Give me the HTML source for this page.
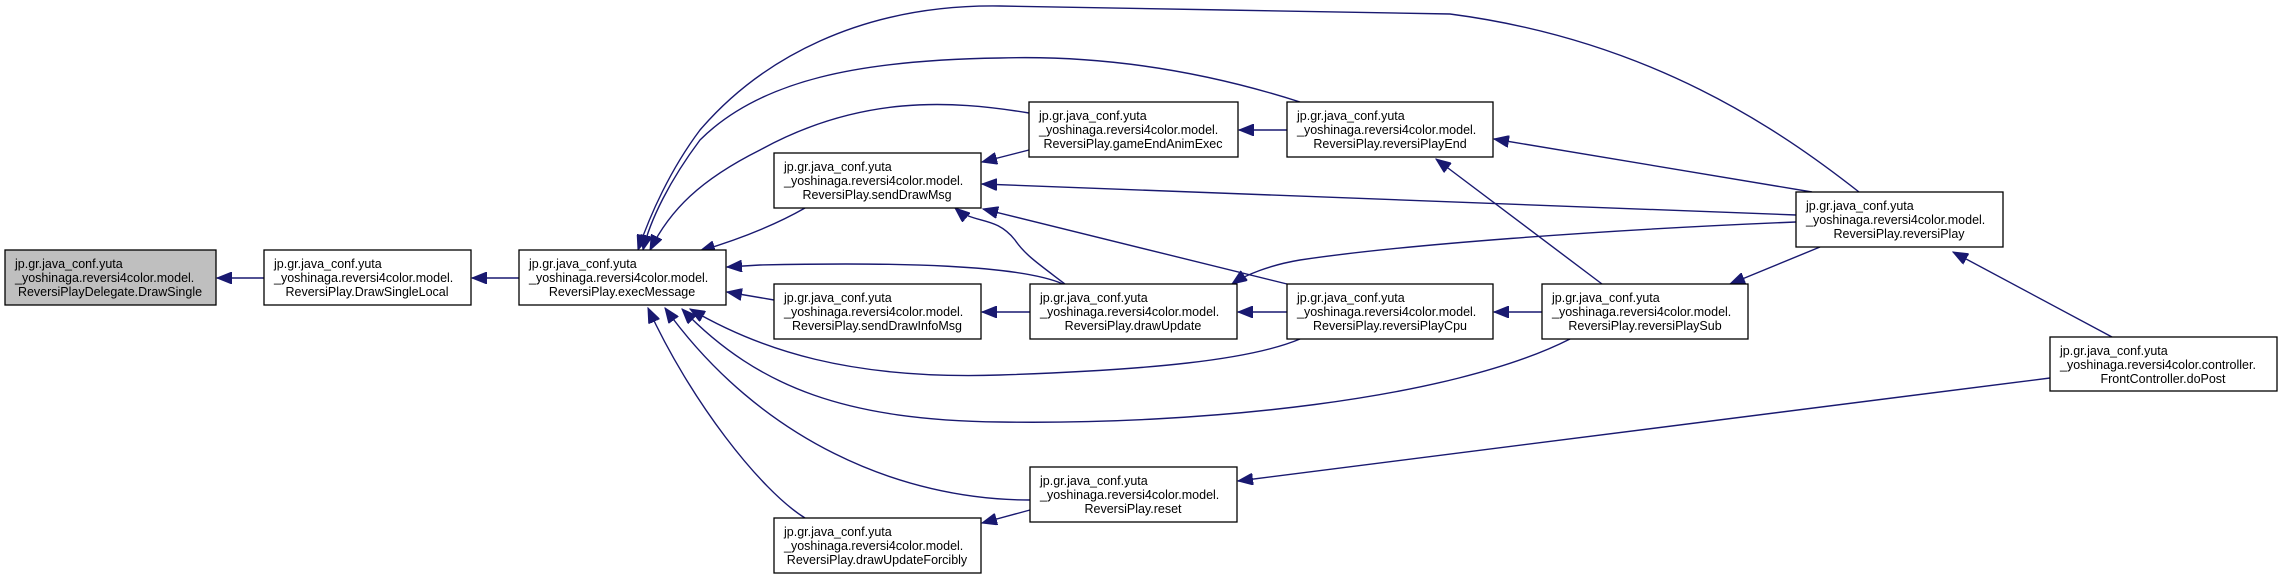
<!DOCTYPE html>
<html><head><meta charset="utf-8"><style>
html,body{margin:0;padding:0;background:#fff;}
svg{display:block;}
text{font-family:"Liberation Sans",sans-serif;font-size:12.5px;fill:#000;}
</style></head><body>
<svg width="2281" height="575" viewBox="0 0 2281 575" xmlns="http://www.w3.org/2000/svg">
<defs>
<marker id="a" markerUnits="userSpaceOnUse" markerWidth="16" markerHeight="12" refX="15" refY="6" orient="auto">
<path d="M0,0 L15,6 L0,12 Z" fill="#191970" stroke="#191970"/>
</marker>
</defs>
<g fill="none" stroke="#191970" stroke-width="1.4" marker-end="url(#a)">
<path d="M264,278 L217,278"/>
<path d="M519,278 L472,278"/>
<path d="M805,208 C770,228 730,242 700,251"/>
<path d="M774,300 L727,292"/>
<path d="M1063,284 C1020,265 900,262 760,265 L727,267"/>
<path d="M805,518 C760,490 690,400 648,308"/>
<path d="M1030,500 C900,500 760,440 665,308"/>
<path d="M1300,339 C1250,360 1150,370 1000,375 C850,380 760,350 690,309"/>
<path d="M1570,339 C1450,400 1200,425 1000,422 C850,420 760,390 682,309"/>
<path d="M1029,113 C950,100 860,95 760,150 C700,180 670,210 650,250"/>
<path d="M1300,102 C1200,70 1100,55 1000,58 C860,60 760,80 700,140 C670,180 650,220 643,250"/>
<path d="M1859,192 C1780,130 1650,40 1450,14 C1300,10 1150,10 1000,6 C860,4 760,60 700,130 C670,170 650,215 638,250"/>
<path d="M1029,150 L982,162"/>
<path d="M1287,130 L1239,130"/>
<path d="M1796,215 L982,184"/>
<path d="M1065,284 C1040,265 1025,255 1015,240 C995,215 975,225 955,208"/>
<path d="M1287,284 L983,209"/>
<path d="M1030,312 L982,312"/>
<path d="M1287,312 L1238,312"/>
<path d="M1796,222 C1600,230 1400,245 1300,260 C1270,265 1245,275 1232,284"/>
<path d="M1542,312 L1494,312"/>
<path d="M1602,284 L1436,159"/>
<path d="M1812,192 L1494,139"/>
<path d="M1820,247 L1730,284"/>
<path d="M2112,337 L1953,252"/>
<path d="M2050,378 L1238,481"/>
<path d="M1030,510 L982,523"/>
</g>
<g stroke="#000" stroke-width="1.3" fill="#fff">
<rect x="5" y="250" width="211" height="55" fill="#bfbfbf"/>
<rect x="264" y="250" width="207" height="55"/>
<rect x="519" y="250" width="207" height="55"/>
<rect x="774" y="153" width="207" height="55"/>
<rect x="1029" y="102" width="209" height="55"/>
<rect x="1287" y="102" width="206" height="55"/>
<rect x="1796" y="192" width="207" height="55"/>
<rect x="774" y="284" width="207" height="55"/>
<rect x="1030" y="284" width="207" height="55"/>
<rect x="1287" y="284" width="206" height="55"/>
<rect x="1542" y="284" width="206" height="55"/>
<rect x="2050" y="337" width="227" height="54"/>
<rect x="1030" y="467" width="207" height="55"/>
<rect x="774" y="518" width="207" height="55"/>
</g>
<g>
<text x="15" y="268">jp.gr.java_conf.yuta</text><text x="15" y="282">_yoshinaga.reversi4color.model.</text><text x="110" y="296" text-anchor="middle">ReversiPlayDelegate.DrawSingle</text>
<text x="274" y="268">jp.gr.java_conf.yuta</text><text x="274" y="282">_yoshinaga.reversi4color.model.</text><text x="367" y="296" text-anchor="middle">ReversiPlay.DrawSingleLocal</text>
<text x="529" y="268">jp.gr.java_conf.yuta</text><text x="529" y="282">_yoshinaga.reversi4color.model.</text><text x="622" y="296" text-anchor="middle">ReversiPlay.execMessage</text>
<text x="784" y="171">jp.gr.java_conf.yuta</text><text x="784" y="185">_yoshinaga.reversi4color.model.</text><text x="877" y="199" text-anchor="middle">ReversiPlay.sendDrawMsg</text>
<text x="1039" y="120">jp.gr.java_conf.yuta</text><text x="1039" y="134">_yoshinaga.reversi4color.model.</text><text x="1133" y="148" text-anchor="middle">ReversiPlay.gameEndAnimExec</text>
<text x="1297" y="120">jp.gr.java_conf.yuta</text><text x="1297" y="134">_yoshinaga.reversi4color.model.</text><text x="1390" y="148" text-anchor="middle">ReversiPlay.reversiPlayEnd</text>
<text x="1806" y="210">jp.gr.java_conf.yuta</text><text x="1806" y="224">_yoshinaga.reversi4color.model.</text><text x="1899" y="238" text-anchor="middle">ReversiPlay.reversiPlay</text>
<text x="784" y="302">jp.gr.java_conf.yuta</text><text x="784" y="316">_yoshinaga.reversi4color.model.</text><text x="877" y="330" text-anchor="middle">ReversiPlay.sendDrawInfoMsg</text>
<text x="1040" y="302">jp.gr.java_conf.yuta</text><text x="1040" y="316">_yoshinaga.reversi4color.model.</text><text x="1133" y="330" text-anchor="middle">ReversiPlay.drawUpdate</text>
<text x="1297" y="302">jp.gr.java_conf.yuta</text><text x="1297" y="316">_yoshinaga.reversi4color.model.</text><text x="1390" y="330" text-anchor="middle">ReversiPlay.reversiPlayCpu</text>
<text x="1552" y="302">jp.gr.java_conf.yuta</text><text x="1552" y="316">_yoshinaga.reversi4color.model.</text><text x="1645" y="330" text-anchor="middle">ReversiPlay.reversiPlaySub</text>
<text x="2060" y="355">jp.gr.java_conf.yuta</text><text x="2060" y="369">_yoshinaga.reversi4color.controller.</text><text x="2163" y="383" text-anchor="middle">FrontController.doPost</text>
<text x="1040" y="485">jp.gr.java_conf.yuta</text><text x="1040" y="499">_yoshinaga.reversi4color.model.</text><text x="1133" y="513" text-anchor="middle">ReversiPlay.reset</text>
<text x="784" y="536">jp.gr.java_conf.yuta</text><text x="784" y="550">_yoshinaga.reversi4color.model.</text><text x="877" y="564" text-anchor="middle">ReversiPlay.drawUpdateForcibly</text>
</g>
</svg>
</body></html>
